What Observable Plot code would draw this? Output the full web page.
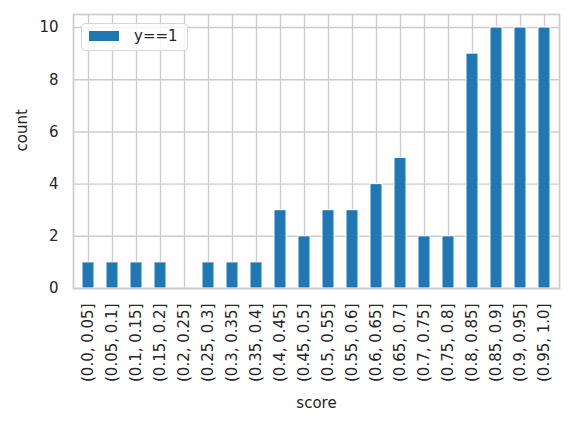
<!DOCTYPE html>
<html>
<head>
<meta charset="utf-8">
<script src="https://cdn.jsdelivr.net/npm/d3@7"></script>
<script src="https://cdn.jsdelivr.net/npm/@observablehq/plot@0.6"></script>
<style>
  html, body { margin: 0; padding: 0; background: #fff; }
  #wrap { position: relative; width: 573px; height: 426px; font-family: "DejaVu Sans", sans-serif; color: #262626; }
  #legend { position: absolute; left: 81px; top: 23px; width: 105px; height: 26px; border: 1px solid #d6d6d6; border-radius: 4px; background: rgba(255,255,255,0.8); box-sizing: content-box; }
  #legend .patch { position: absolute; left: 7px; top: 7px; width: 30px; height: 10px; background: #1f77b4; }
  #legend .lab { position: absolute; left: 52px; top: 3px; font-size: 15px; line-height: 18px; color: #262626; }
</style>
</head>
<body>
<div id="wrap"></div>
<script>
const categories = ["(0.0, 0.05]","(0.05, 0.1]","(0.1, 0.15]","(0.15, 0.2]","(0.2, 0.25]","(0.25, 0.3]","(0.3, 0.35]","(0.35, 0.4]","(0.4, 0.45]","(0.45, 0.5]","(0.5, 0.55]","(0.55, 0.6]","(0.6, 0.65]","(0.65, 0.7]","(0.7, 0.75]","(0.75, 0.8]","(0.8, 0.85]","(0.85, 0.9]","(0.9, 0.95]","(0.95, 1.0]"];
const counts = [1,1,1,1,0,1,1,1,3,2,3,3,4,5,2,2,9,10,10,10];
const yTicks = [0,2,4,6,8,10];
const seriesName = "y==1";
const xLabel = "score";
const yLabel = "count";

const data = categories.map((c, i) => ({score: c, count: counts[i]}));

const chart = Plot.plot({
  width: 573,
  height: 426,
  marginLeft: 73,
  marginRight: 14,
  marginTop: 14,
  marginBottom: 138,
  style: {fontFamily: "DejaVu Sans, sans-serif", fontSize: "15px", color: "#262626", background: "#fff"},
  x: {type: "band", domain: categories, paddingInner: 0.5, paddingOuter: 0.25, align: 0.5, label: null},
  y: {domain: [0, 10.5], label: null},
  marks: [
    Plot.gridX(categories, {stroke: "#cccccc", strokeOpacity: 1, strokeWidth: 1.4}),
    Plot.gridY(yTicks, {stroke: "#cccccc", strokeOpacity: 1, strokeWidth: 1.4}),
    Plot.barY(data, {x: "score", y: "count", fill: "#1f77b4", stroke: "white", strokeWidth: 1}),
    Plot.frame({stroke: "#cccccc", strokeWidth: 1.7}),
    Plot.axisY({ticks: yTicks, tickSize: 0, tickPadding: 15, fontSize: 15, label: null, fill: "#262626"}),
    Plot.axisX({tickSize: 0, tickPadding: 15, tickRotate: -90, fontSize: 15, label: null, fill: "#262626"}),
    Plot.text([xLabel], {frameAnchor: "bottom", dy: 115, text: d => d, fontSize: 15, fill: "#262626", lineAnchor: "middle"}),
    Plot.text([yLabel], {frameAnchor: "left", dx: -51, rotate: -90, text: d => d, fontSize: 15, fill: "#262626", lineAnchor: "middle"})
  ]
});

const wrap = document.getElementById("wrap");
wrap.appendChild(chart);
const legend = document.createElement("div");
legend.id = "legend";
legend.innerHTML = `<div class="patch"></div><div class="lab">${seriesName}</div>`;
wrap.appendChild(legend);
</script>
</body>
</html>
